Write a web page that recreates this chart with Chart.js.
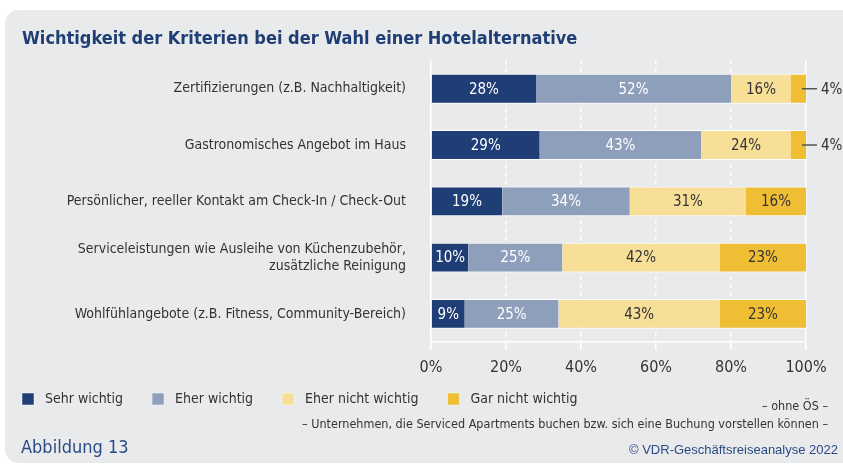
<!DOCTYPE html>
<html>
<head>
<meta charset="utf-8">
<script src="https://cdn.jsdelivr.net/npm/chart.js@4/dist/chart.umd.min.js"></script>
<style>
  html, body { margin: 0; padding: 0; background: #fff; }
  #wrap { width: 843px; height: 473px; position: relative; }
</style>
</head>
<body>
<div id="wrap"><canvas id="chart"></canvas></div>
<script>
const FONT = "'DejaVu Sans Condensed', 'Liberation Sans Narrow', sans-serif";

const categories = [
    'Zertifizierungen (z.B. Nachhaltigkeit)',
    'Gastronomisches Angebot im Haus',
    'Persönlicher, reeller Kontakt am Check-In / Check-Out',
    ['Serviceleistungen wie Ausleihe von Küchenzubehör,', 'zusätzliche Reinigung'],
    'Wohlfühlangebote (z.B. Fitness, Community-Bereich)'
];
const seriesNames = ['Sehr wichtig', 'Eher wichtig', 'Eher nicht wichtig', 'Gar nicht wichtig'];
const sehrWichtig = [28, 29, 19, 10, 9];
const eherWichtig = [52, 43, 34, 25, 25];
const eherNichtWichtig = [16, 24, 31, 42, 43];
const garNichtWichtig = [4, 4, 16, 23, 23];
const tickValues = [0, 20, 40, 60, 80, 100];

const colors = ['#1f3e75', '#8d9fba', '#f7df97', '#f0be35'];
const labelColors = ['#ffffff', '#ffffff', '#333333', '#333333'];

// grey rounded panel behind everything, footer notes on top
const panel = {
    id: 'panel',
    beforeDraw(chart) {
        const c = chart.ctx;
        c.save();
        c.fillStyle = '#e9eaec';
        c.beginPath();
        c.roundRect(5, 10, 860, 453, 14);
        c.fill();
        c.restore();
    },
    afterLayout(chart) {
        // legend flush with the title and pulled up under the axis
        chart.legend.left -= 29;
        chart.legend.right -= 29;
        chart.legend.top -= 19;
        chart.legend.bottom -= 19;
    },
    afterDraw(chart) {
        const c = chart.ctx;
        c.save();
        c.fillStyle = '#333';
        c.textBaseline = 'middle';
        c.textAlign = 'right';
        c.font = '12.5px ' + FONT;
        c.fillText('– ohne ÖS –', 828, 407);
        c.fillText('– Unternehmen, die Serviced Apartments buchen bzw. sich eine Buchung vorstellen können –', 828, 425);
        c.fillStyle = '#2b4a84';
        c.font = "13px 'Liberation Sans', Arial, sans-serif";
        c.fillText('© VDR-Geschäftsreiseanalyse 2022', 838, 450);
        c.textAlign = 'left';
        c.font = '18px ' + FONT;
        c.fillText('Abbildung 13', 21, 448);
        c.restore();
    }
};

// percentage labels inside bars, small ones outside with a leader line
const barLabels = {
    id: 'barLabels',
    afterDatasetsDraw(chart) {
        const c = chart.ctx;
        c.save();
        c.font = '15px ' + FONT;
        c.textBaseline = 'middle';
        chart.data.datasets.forEach((ds, i) => {
            chart.getDatasetMeta(i).data.forEach((bar, j) => {
                const v = ds.data[j];
                if (v >= 8) {
                    c.fillStyle = labelColors[i];
                    c.textAlign = 'center';
                    c.fillText(v + '%', (bar.x + bar.base) / 2, bar.y + 1);
                } else {
                    c.strokeStyle = '#555';
                    c.lineWidth = 1.5;
                    c.beginPath();
                    c.moveTo(bar.x - 4, bar.y);
                    c.lineTo(bar.x + 11, bar.y);
                    c.stroke();
                    c.fillStyle = '#333';
                    c.textAlign = 'left';
                    c.fillText(v + '%', bar.x + 15, bar.y + 1);
                }
            });
        });
        c.restore();
    }
};

const values = [sehrWichtig, eherWichtig, eherNichtWichtig, garNichtWichtig];

new Chart(document.getElementById('chart'), {
    type: 'bar',
    data: {
        labels: categories,
        datasets: seriesNames.map((name, i) => ({
            label: name,
            data: values[i],
            backgroundColor: colors[i],
            borderColor: '#ffffff',
            borderWidth: {top: 1, bottom: 1, left: 0, right: 0},
            borderSkipped: false,
            barPercentage: 0.53,
            categoryPercentage: 1
        }))
    },
    options: {
        indexAxis: 'y',
        responsive: true,
        maintainAspectRatio: false,
        animation: false,
        layout: {
            padding: {left: 22, right: 37, top: 10, bottom: 38}
        },
        scales: {
            x: {
                stacked: true,
                min: 0,
                max: 100,
                afterBuildTicks: scale => {
                    scale.ticks = tickValues.map(v => ({value: v}));
                },
                afterFit: scale => { scale.height = 40; },
                ticks: {
                    color: '#333',
                    font: {family: FONT, size: 16},
                    padding: 8,
                    callback: v => v + '%'
                },
                grid: {
                    color: '#ffffff',
                    lineWidth: 1.5,
                    tickLength: 8
                },
                border: {
                    display: true,
                    color: '#ffffff',
                    width: 1.5,
                    dash: ctx => (ctx.tick && (ctx.tick.value === 0 || ctx.tick.value === 100)) ? [] : [4, 4]
                }
            },
            y: {
                stacked: true,
                afterFit: scale => { scale.width = 409; },
                ticks: {
                    color: '#333',
                    font: {family: FONT, size: 14},
                    padding: 17
                },
                grid: {display: false},
                border: {display: false}
            }
        },
        plugins: {
            title: {
                display: true,
                text: 'Wichtigkeit der Kriterien bei der Wahl einer Hotelalternative',
                align: 'start',
                color: '#1f3e75',
                font: {family: FONT, size: 18, weight: 'bold'},
                padding: {top: 19, bottom: 10}
            },
            legend: {
                position: 'bottom',
                align: 'start',
                labels: {
                    boxWidth: 12,
                    boxHeight: 12,
                    padding: 29,
                    color: '#333',
                    font: {family: FONT, size: 14},
                    generateLabels: chart =>
                        Chart.defaults.plugins.legend.labels.generateLabels(chart)
                            .map(item => Object.assign(item, {text: ' ' + item.text}))
                }
            },
            tooltip: {enabled: false}
        }
    },
    plugins: [panel, barLabels]
});
</script>
</body>
</html>
